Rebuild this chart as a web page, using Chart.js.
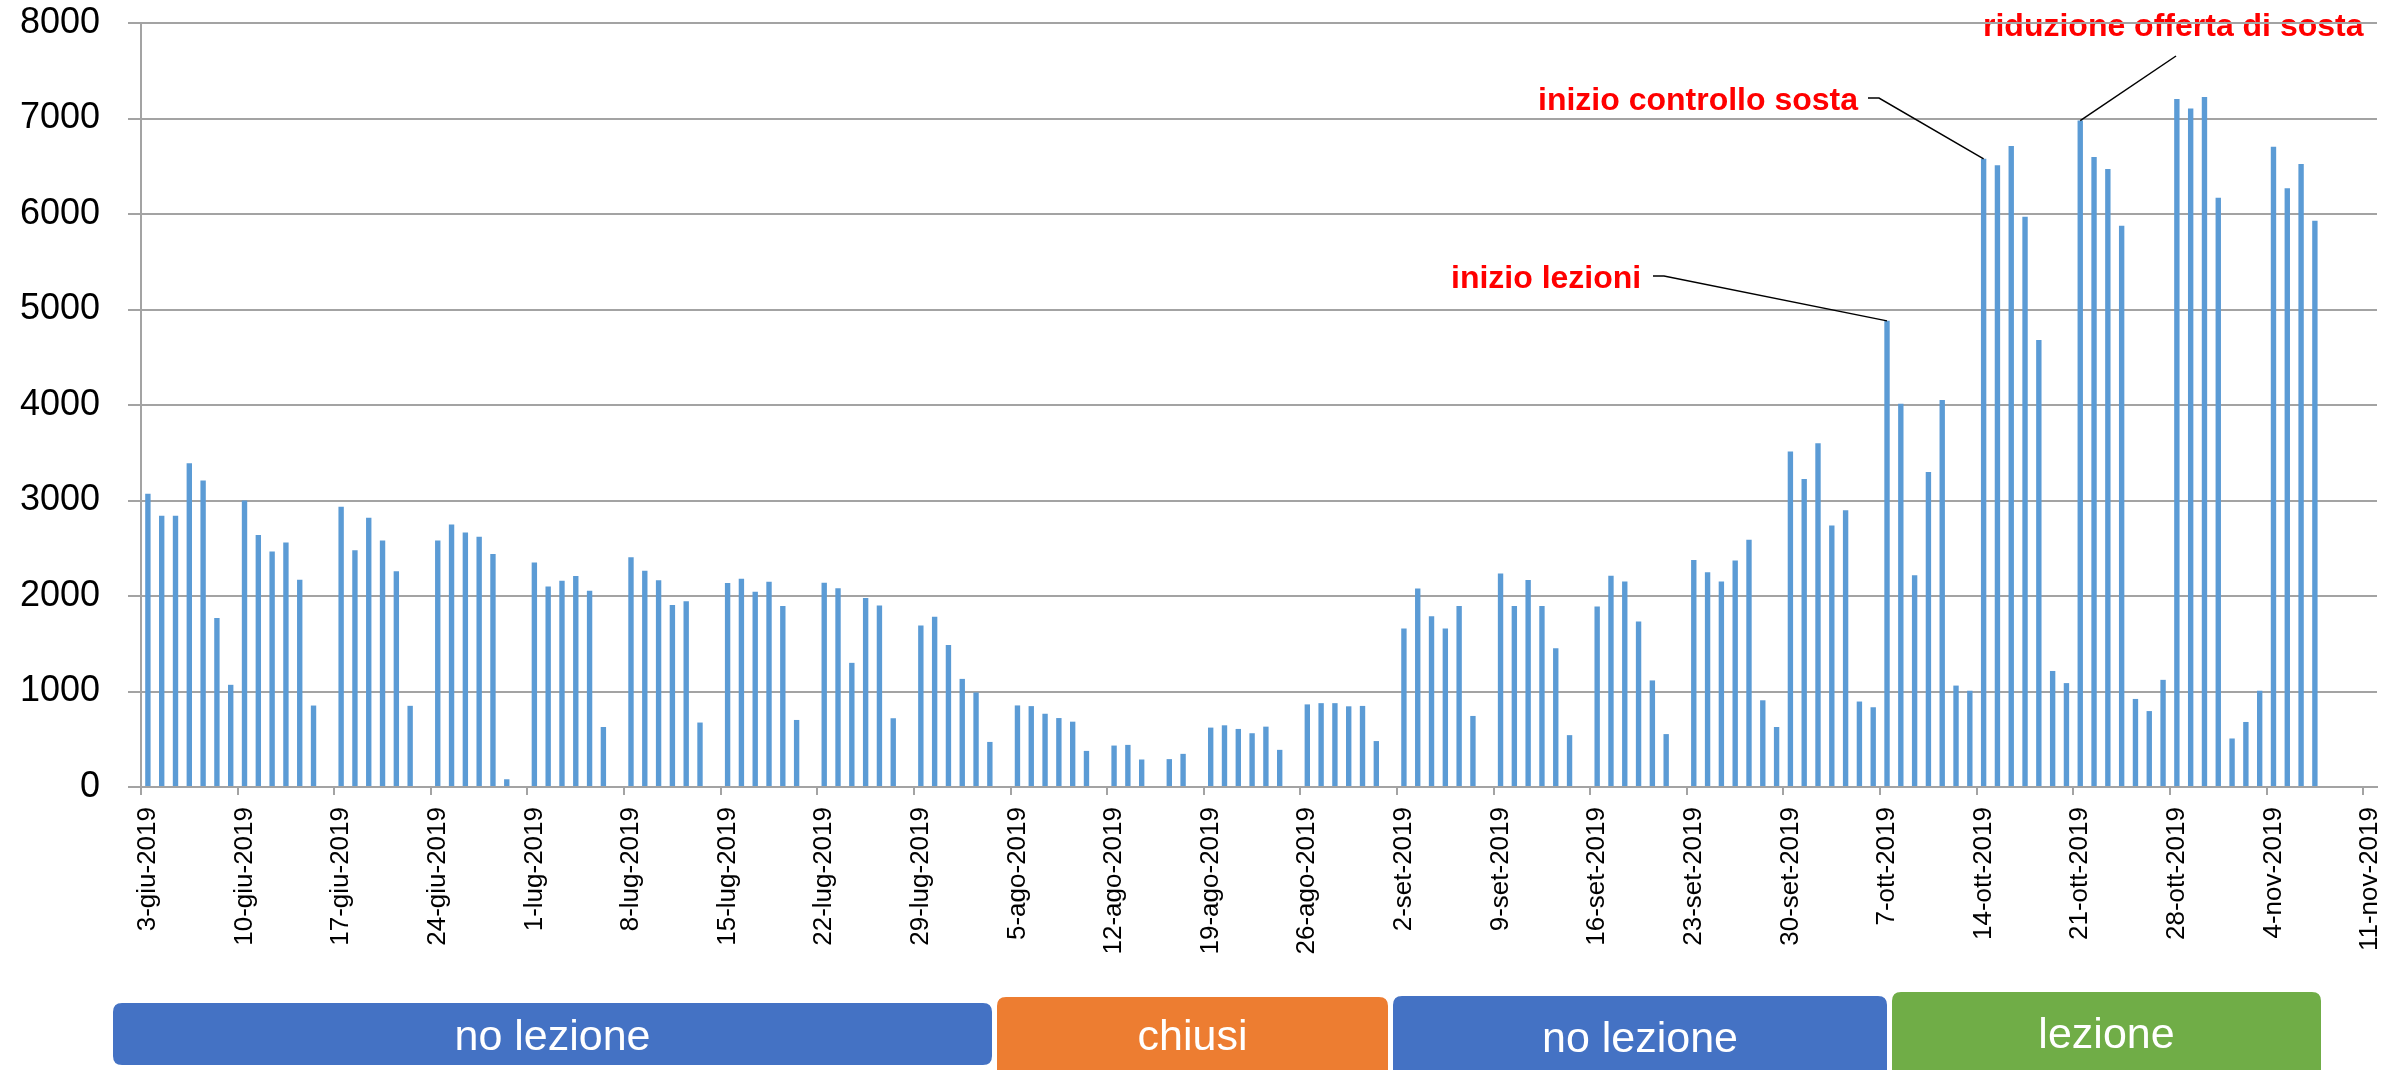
<!DOCTYPE html>
<html>
<head>
<meta charset="utf-8">
<script src="https://cdn.jsdelivr.net/npm/chart.js@4.4.0/dist/chart.umd.min.js"></script>
<style>
  body { margin: 0; background: #fff; }
  #grafico { display: block; }
</style>
</head>
<body>
<canvas id="grafico" width="2405" height="1070"></canvas>
<script>
// giorni dal 3 giugno all'11 novembre 2019
const mesi = ["gen", "feb", "mar", "apr", "mag", "giu", "lug", "ago", "set", "ott", "nov", "dic"];
const giorni = [];
for (let d = new Date(2019, 5, 3); d <= new Date(2019, 10, 11); d.setDate(d.getDate() + 1)) {
    giorni.push(d.getDate() + "-" + mesi[d.getMonth()] + "-" + d.getFullYear());
}

// ingressi giornalieri, una riga per settimana (lun -> dom), null = nessun dato
const ingressi = [
    3070, 2840, 2840, 3390, 3210, 1770, 1070,   // 3-giu
    3000, 2640, 2465, 2560, 2170, 853, null,    // 10-giu
    2935, 2480, 2820, 2580, 2260, 850, null,    // 17-giu
    2580, 2750, 2665, 2620, 2440, 81, null,     // 24-giu
    2350, 2100, 2160, 2210, 2055, 628, null,    // 1-lug
    2405, 2265, 2165, 1905, 1945, 675, null,    // 8-lug
    2135, 2180, 2045, 2150, 1895, 702, null,    // 15-lug
    2140, 2080, 1300, 1980, 1900, 720, null,    // 22-lug
    1690, 1783, 1486, 1132, 990, 472, null,     // 29-lug
    854, 847, 767, 722, 684, 378, null,         // 5-ago
    434, 441, 288, null, 292, 347, null,        // 12-ago
    622, 646, 608, 563, 632, 389, null,         // 19-ago
    865, 878, 878, 845, 849, 481, null,         // 26-ago
    1660, 2078, 1787, 1660, 1895, 744, null,    // 2-set
    2236, 1895, 2167, 1895, 1453, 543, null,    // 9-set
    1891, 2213, 2151, 1733, 1116, 554, null,    // 16-set
    2376, 2248, 2151, 2372, 2589, 908, 628,     // 23-set
    3513, 3225, 3599, 2738, 2898, 895, 835,     // 30-set
    4881, 4013, 2217, 3299, 4053, 1062, 1008,   // 7-ott
    6578, 6511, 6711, 5970, 4681, 1215, 1088,   // 14-ott
    6978, 6598, 6471, 5876, 922, 795, 1122,     // 21-ott
    7205, 7105, 7225, 6170, 508, 681, 1008,     // 28-ott
    6705, 6270, 6524, 5930, null, null, null,   // 4-nov
    null                                        // 11-nov
];

const yTicks = [0, 1000, 2000, 3000, 4000, 5000, 6000, 7000, 8000];

// note in rosso con linea di richiamo
const noteTesti = ["inizio lezioni", "inizio controllo sosta", "riduzione offerta di sosta"];
const noteGiorni = ["7-ott-2019", "14-ott-2019", "21-ott-2019"];

// fasce sotto l'asse
const fasceTesti = ["no lezione", "chiusi", "no lezione", "lezione"];
const fasceColori = ["#4472C4", "#ED7D31", "#4472C4", "#70AD47"];

const FONT = "'Liberation Sans', Arial, sans-serif";
const GRIGIO = "#a3a3a3";

// posizioni in pixel (solo layout)
const notePos = [
    { x: 1451, y: 288, lx: 1653, ly: 276, kink: 11 },
    { x: 1538, y: 110, lx: 1868, ly: 98, kink: 11 },
    { x: 1983, y: 36, lx: 2176, ly: 56, kink: 0 }
];
const fascePos = [
    { x0: 113, x1: 992, y0: 1003, y1: 1065, base: 1050 },
    { x0: 997, x1: 1388, y0: 997, y1: 1080, base: 1050 },
    { x0: 1393, x1: 1887, y0: 996, y1: 1080, base: 1052 },
    { x0: 1892, x1: 2321, y0: 992, y1: 1080, base: 1048 }
];

function roundRect(ctx, x0, y0, x1, y1, r) {
    ctx.beginPath();
    ctx.moveTo(x0 + r, y0);
    ctx.lineTo(x1 - r, y0);
    ctx.quadraticCurveTo(x1, y0, x1, y0 + r);
    ctx.lineTo(x1, y1 - r);
    ctx.quadraticCurveTo(x1, y1, x1 - r, y1);
    ctx.lineTo(x0 + r, y1);
    ctx.quadraticCurveTo(x0, y1, x0, y1 - r);
    ctx.lineTo(x0, y0 + r);
    ctx.quadraticCurveTo(x0, y0, x0 + r, y0);
    ctx.closePath();
}

const notePlugin = {
    id: "note",
    beforeDraw(chart) {
        const ctx = chart.ctx;
        ctx.save();
        ctx.font = "bold 32px " + FONT;
        ctx.fillStyle = "#ff0000";
        ctx.textAlign = "left";
        ctx.textBaseline = "alphabetic";
        noteTesti.forEach((t, i) => ctx.fillText(t, notePos[i].x, notePos[i].y));
        ctx.restore();
    },
    afterDraw(chart) {
        const ctx = chart.ctx;
        const xs = chart.scales.x, ys = chart.scales.y;
        ctx.save();
        ctx.strokeStyle = "#000";
        ctx.lineWidth = 1.5;
        noteGiorni.forEach((g, i) => {
            const idx = giorni.indexOf(g);
            const bx = xs.getPixelForValue(idx);
            const by = ys.getPixelForValue(ingressi[idx]);
            const p = notePos[i];
            ctx.beginPath();
            ctx.moveTo(p.lx, p.ly);
            if (p.kink) ctx.lineTo(p.lx + p.kink, p.ly);
            ctx.lineTo(bx, by);
            ctx.stroke();
        });

        fasceTesti.forEach((t, i) => {
            const f = fascePos[i];
            ctx.fillStyle = fasceColori[i];
            roundRect(ctx, f.x0, f.y0, f.x1, f.y1, 9);
            ctx.fill();
            ctx.fillStyle = "#fff";
            ctx.font = "43px " + FONT;
            ctx.textAlign = "center";
            ctx.textBaseline = "alphabetic";
            ctx.fillText(t, (f.x0 + f.x1) / 2, f.base);
        });
        ctx.restore();
    }
};

new Chart(document.getElementById("grafico").getContext("2d"), {
    type: "bar",
    data: {
        labels: giorni,
        datasets: [{
            data: ingressi,
            backgroundColor: "#5B9BD5",
            borderWidth: 0,
            categoryPercentage: 1,
            barPercentage: 0.39
        }]
    },
    options: {
        responsive: false,
        animation: false,
        devicePixelRatio: 1,
        layout: { padding: { top: 23, right: 28, left: 0, bottom: 0 } },
        plugins: {
            legend: { display: false },
            tooltip: { enabled: false }
        },
        scales: {
            x: {
                type: "category",
                offset: true,
                grid: {
                    offset: true,
                    drawOnChartArea: false,
                    drawTicks: true,
                    tickLength: 8,
                    lineWidth: 2,
                    color: (c) => (c.index % 7 === 0 ? GRIGIO : "rgba(0,0,0,0)")
                },
                border: { color: GRIGIO, width: 2 },
                ticks: {
                    autoSkip: false,
                    minRotation: 90,
                    maxRotation: 90,
                    padding: 12,
                    color: "#000",
                    font: { family: FONT, size: 26 },
                    callback: function (v, i) {
                        return i % 7 === 0 ? this.getLabelForValue(v) : "";
                    }
                },
                afterFit: (s) => { s.height = 283; s.paddingLeft = 0; s.paddingRight = 0; }
            },
            y: {
                min: 0,
                max: 8000,
                afterBuildTicks: (s) => { s.ticks = yTicks.map((v) => ({ value: v })); },
                grid: { color: GRIGIO, lineWidth: 2, tickLength: 13 },
                border: { color: GRIGIO, width: 2 },
                ticks: {
                    padding: 28,
                    color: "#000",
                    font: { family: FONT, size: 36 },
                    callback: (v) => String(v)
                },
                afterFit: (s) => { s.width = 141; s.paddingTop = 0; s.paddingBottom = 0; }
            }
        }
    },
    plugins: [notePlugin]
});
</script>
</body>
</html>
